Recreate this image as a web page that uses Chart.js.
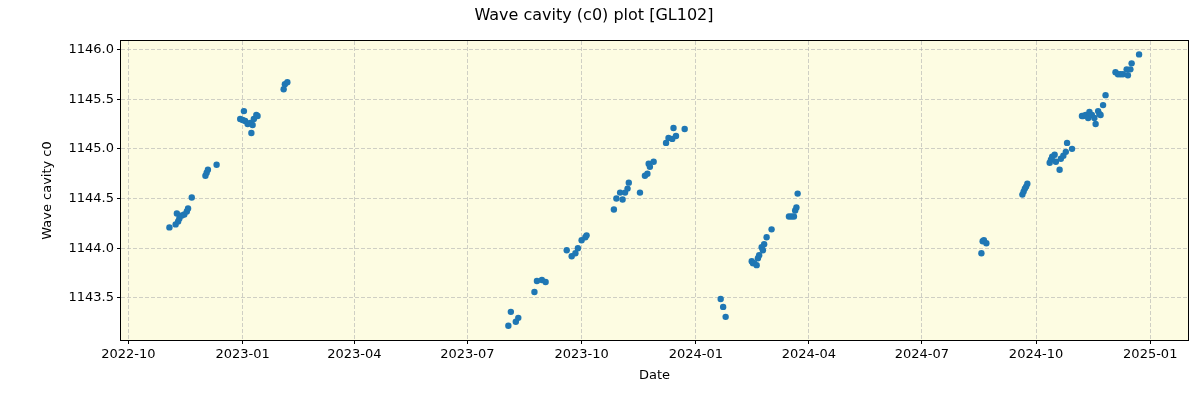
<!DOCTYPE html>
<html>
<head>
<meta charset="utf-8">
<script src="https://cdn.jsdelivr.net/npm/chart.js@4"></script>
<style>
html, body { margin: 0; padding: 0; background: #fff; }
</style>
</head>
<body>
<canvas id="cavityChart" width="1200" height="400"></canvas>
<script>
var dates = [
  '2022-11-03','2022-11-08','2022-11-09','2022-11-10','2022-11-11','2022-11-13','2022-11-15',
  '2022-11-17','2022-11-18','2022-11-21','2022-12-02','2022-12-03','2022-12-04','2022-12-11',
  '2022-12-30','2023-01-01','2023-01-02','2023-01-03','2023-01-05','2023-01-07','2023-01-08',
  '2023-01-09','2023-01-10','2023-01-12','2023-01-13','2023-02-03','2023-02-04','2023-02-06',
  '2023-08-03','2023-08-05','2023-08-09','2023-08-11','2023-08-24','2023-08-26','2023-08-30',
  '2023-09-02','2023-09-19','2023-09-23','2023-09-26','2023-09-28','2023-10-01','2023-10-04',
  '2023-10-05','2023-10-27','2023-10-29','2023-11-01','2023-11-03','2023-11-05','2023-11-07',
  '2023-11-08','2023-11-17','2023-11-21','2023-11-23','2023-11-24','2023-11-25','2023-11-28',
  '2023-12-08','2023-12-10','2023-12-13','2023-12-14','2023-12-16','2023-12-23',
  '2024-01-21','2024-01-23','2024-01-25','2024-02-15','2024-02-16','2024-02-17','2024-02-19',
  '2024-02-20','2024-02-21','2024-02-23','2024-02-24','2024-02-25','2024-02-27','2024-03-02',
  '2024-03-16','2024-03-18','2024-03-20','2024-03-21','2024-03-22','2024-03-23',
  '2024-08-18','2024-08-19','2024-08-20','2024-08-22','2024-09-20','2024-09-21','2024-09-22',
  '2024-09-23','2024-09-24','2024-10-12','2024-10-13','2024-10-14','2024-10-16','2024-10-17',
  '2024-10-20','2024-10-21','2024-10-23','2024-10-25','2024-10-26','2024-10-30','2024-11-07',
  '2024-11-08','2024-11-10','2024-11-12','2024-11-13','2024-11-15','2024-11-17','2024-11-18',
  '2024-11-20','2024-11-21','2024-11-22','2024-11-24','2024-11-26','2024-12-04','2024-12-06',
  '2024-12-08','2024-12-10','2024-12-13','2024-12-14','2024-12-16','2024-12-17','2024-12-23'
];
var values = [
  1144.21,1144.24,1144.35,1144.27,1144.30,1144.33,1144.34,
  1144.37,1144.40,1144.51,1144.73,1144.76,1144.79,1144.84,
  1145.30,1145.29,1145.38,1145.28,1145.25,1145.26,1145.16,
  1145.24,1145.30,1145.34,1145.33,1145.60,1145.65,1145.67,
  1143.22,1143.36,1143.26,1143.30,1143.56,1143.67,1143.68,
  1143.66,1143.98,1143.92,1143.95,1144.00,1144.08,1144.11,
  1144.13,1144.39,1144.50,1144.56,1144.49,1144.56,1144.60,
  1144.66,1144.56,1144.73,1144.75,1144.85,1144.82,1144.87,
  1145.06,1145.11,1145.10,1145.21,1145.13,1145.20,
  1143.49,1143.41,1143.31,1143.87,1143.85,1143.85,1143.83,
  1143.90,1143.93,1144.01,1143.98,1144.04,1144.11,1144.19,
  1144.32,1144.32,1144.32,1144.38,1144.41,1144.55,
  1143.95,1144.07,1144.08,1144.05,1144.54,1144.57,1144.60,
  1144.62,1144.65,1144.86,1144.89,1144.92,1144.94,1144.87,
  1144.79,1144.90,1144.93,1144.97,1145.06,1145.00,1145.33,
  1145.33,1145.34,1145.31,1145.37,1145.34,1145.31,1145.25,
  1145.38,1145.35,1145.34,1145.44,1145.54,1145.77,1145.75,
  1145.75,1145.75,1145.80,1145.74,1145.80,1145.86,1145.95
];
var xTickDates = ['2022-10-01','2023-01-01','2023-04-01','2023-07-01','2023-10-01',
                  '2024-01-01','2024-04-01','2024-07-01','2024-10-01','2025-01-01'];
var xTickLabels = ['2022-10','2023-01','2023-04','2023-07','2023-10',
                   '2024-01','2024-04','2024-07','2024-10','2025-01'];
var yTicks = [1143.5, 1144.0, 1144.5, 1145.0, 1145.5, 1146.0];

function dayNum(s) {
  return Date.parse(s + 'T00:00:00Z') / 86400000;
}

var points = dates.map(function(d, i) {
  return { x: dayNum(d), y: values[i] };
});

var FONT = 'DejaVu Sans';
var start = dayNum('2022-10-01');

// light yellow plot background + black frame
var plotFrame = {
  id: 'plotFrame',
  beforeDraw: function(chart) {
    var a = chart.chartArea, ctx = chart.ctx;
    ctx.save();
    ctx.fillStyle = '#fdfce2';
    ctx.fillRect(a.left, a.top, a.right - a.left, a.bottom - a.top);
    ctx.restore();
  },
  afterDraw: function(chart) {
    var a = chart.chartArea, ctx = chart.ctx;
    ctx.save();
    ctx.strokeStyle = '#000';
    ctx.lineWidth = 1;
    ctx.strokeRect(Math.round(a.left) - 0.5, Math.round(a.top) - 0.5,
                   Math.round(a.right - a.left) + 1, Math.round(a.bottom - a.top) + 1);
    ctx.restore();
  }
};

var ctx = document.getElementById('cavityChart');
new Chart(ctx, {
  type: 'scatter',
  data: {
    datasets: [{
      data: points,
      backgroundColor: '#1f77b4',
      borderWidth: 0,
      pointRadius: 3.2,
      pointHoverRadius: 3.2
    }]
  },
  options: {
    responsive: false,
    animation: false,
    layout: { padding: { left: 0, right: 12, top: 0, bottom: 0 } },
    plugins: {
      legend: { display: false },
      tooltip: { enabled: false },
      title: {
        display: true,
        text: 'Wave cavity (c0) plot [GL102]',
        color: '#000',
        font: { family: FONT, size: 16, weight: 'normal' },
        padding: { top: 6.5, bottom: 15.3 }
      }
    },
    scales: {
      x: {
        type: 'linear',
        min: start - 6.0,
        max: start + 853.4,
        afterBuildTicks: function(scale) {
          scale.ticks = xTickDates.map(function(d) { return { value: dayNum(d) }; });
        },
        afterFit: function(scale) { scale.height = 60; },
        ticks: {
          color: '#000',
          font: { family: FONT, size: 13 },
          padding: 3,
          maxRotation: 0,
          autoSkip: false,
          callback: function(value, index) { return xTickLabels[index]; }
        },
        grid: {
          color: 'rgba(176,176,176,0.6)',
          tickColor: '#000',
          tickLength: 4,
          tickBorderDash: [],
          lineWidth: 1
        },
        border: { display: false, dash: [4, 2] },
        title: {
          display: true,
          text: 'Date',
          color: '#000',
          font: { family: FONT, size: 13 },
          padding: { top: 0, bottom: 17 }
        }
      },
      y: {
        min: 1143.077,
        max: 1146.085,
        afterBuildTicks: function(scale) {
          scale.ticks = yTicks.map(function(v) { return { value: v }; });
        },
        afterFit: function(scale) { scale.width = 121; },
        ticks: {
          color: '#000',
          font: { family: FONT, size: 13 },
          padding: 3,
          callback: function(value) { return value.toFixed(1); }
        },
        grid: {
          color: 'rgba(176,176,176,0.6)',
          tickColor: '#000',
          tickLength: 4,
          tickBorderDash: [],
          lineWidth: 1
        },
        border: { display: false, dash: [4, 2] },
        title: {
          display: true,
          text: 'Wave cavity c0',
          color: '#000',
          font: { family: FONT, size: 13 },
          padding: { top: 40, bottom: 0 }
        }
      }
    }
  },
  plugins: [plotFrame]
});
</script>
</body>
</html>
